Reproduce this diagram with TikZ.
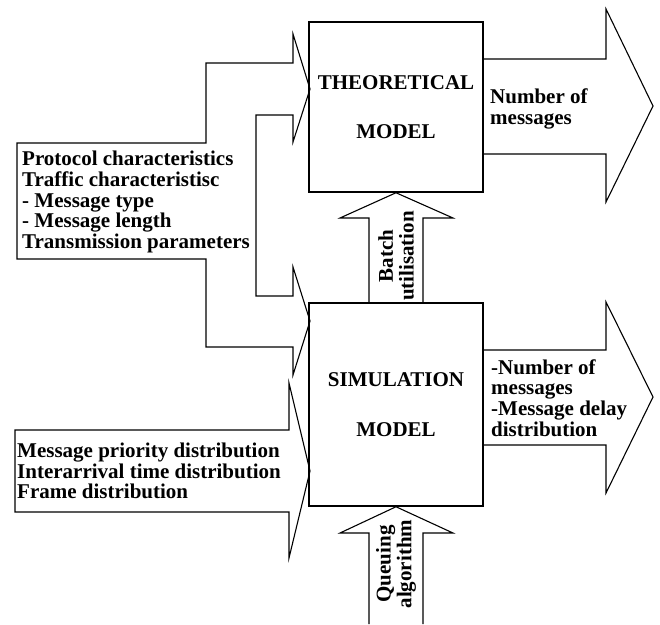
\documentclass[tikz,border=0pt]{standalone}
\usepackage{fontspec}
\setmainfont{Liberation Serif}
\usepackage{tikz}

\tikzset{
  modelbox/.style={draw, line width=1.5pt, minimum width=174pt, align=center, inner sep=0pt},
  blockarrow/.style={draw, line width=1.1pt, line join=miter},
  lbl/.style={align=left, inner sep=0pt},
}

\begin{document}
\begin{tikzpicture}[x=1pt, y=-1pt, font=\fontsize{21}{20.7}\selectfont\bfseries]
\useasboundingbox (0,0) rectangle (660,624);
%%%%%%%%%%%%%%%%%%%%%%%%%%%%%%%%%%%%%
% the two models
\node[modelbox, minimum height=170pt] (theo) at (396,107) {THEORETICAL\\[29pt]MODEL};
\node[modelbox, minimum height=203pt] (sim) at (396,404.5) {SIMULATION\\[30pt]MODEL};
%%%%%%%%%%%%%%%%%%%%%%%%%%%%%%%%%%%%%
% inputs on the left
\draw[blockarrow] (17,143) -- (206,143) -- (206,63) -- (293,63) -- (293,34)
    -- (310,89) -- (293,142) -- (293,115) -- (256,115) -- (256,296) -- (293,296)
    -- (293,267) -- (310,321) -- (293,375) -- (293,347) -- (206,347) -- (206,259)
    -- (17,259) -- cycle;
\node[lbl, anchor=west] (prot) at (22,202) {Protocol characteristics\\Traffic characteristisc\\- Message type\\- Message length\\Transmission parameters};
%
\draw[blockarrow] (15,430) -- (289,430) -- (289,383) -- (310,471) -- (289,558)
    -- (289,512) -- (15,512) -- cycle;
\node[lbl, anchor=west] (prio) at (17,471) {Message priority distribution\\Interarrival time distribution\\Frame distribution};
%%%%%%%%%%%%%%%%%%%%%%%%%%%%%%%%%%%%%
% vertical arrows
\draw[blockarrow] (369,303) -- (369,218) -- (340,218) -- (theo.south) -- (453,218)
    -- (423,218) -- (423,303);
\node[rotate=90, align=center, inner sep=0pt] (batch) at (396,256) {Batch\\utilisation};
%
\draw[blockarrow] (369,624) -- (369,533) -- (340,533) -- (sim.south) -- (453,533)
    -- (423,533) -- (423,624);
\node[rotate=90, align=center, inner sep=0pt] (queue) at (396,564) {Queuing\\algorithm};
%%%%%%%%%%%%%%%%%%%%%%%%%%%%%%%%%%%%%
% outputs on the right
\draw[blockarrow] (483,59) -- (606,59) -- (606,9) -- (653,106) -- (606,202)
    -- (606,154) -- (483,154);
\node[lbl, anchor=west] (nummsg) at (490,109) {Number of\\messages};
%
\draw[blockarrow] (483,350) -- (606,350) -- (606,302) -- (653,397) -- (606,493)
    -- (606,445) -- (483,445);
\node[lbl, anchor=west] (simout) at (491,398) {-Number of\\messages\\-Message delay\\distribution};
\end{tikzpicture}
\end{document}
